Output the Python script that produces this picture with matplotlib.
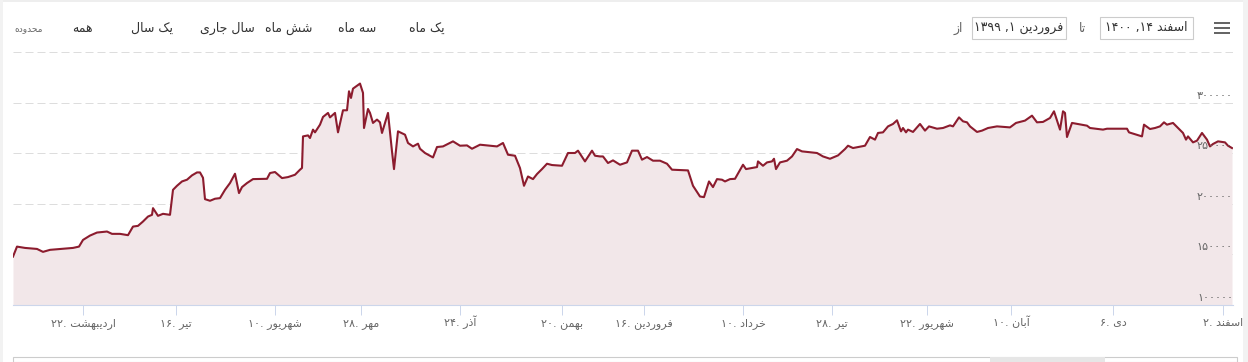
import matplotlib
matplotlib.use("Agg")
import matplotlib.pyplot as plt
from matplotlib.patches import Rectangle
from matplotlib import transforms

plt.rcParams['font.family'] = ['DejaVu Sans']

# ordinal position on the (trading-day) axis and price
t = [0, 4, 12, 24, 30, 37, 60, 66, 70, 77, 84, 94, 99, 107, 115, 120, 125, 130, 135,
     139, 140, 145, 150, 157, 160, 164, 169, 174, 179, 184, 187, 190, 192, 197, 202,
     207, 212, 217, 222, 226, 229, 234, 240, 254, 257, 262, 269, 275, 282, 287, 289,
     290, 295, 297, 300, 302, 307, 310, 315, 317, 322, 325, 330, 334, 336, 338, 340,
     347, 350, 351, 355, 357, 360, 364, 367, 369, 375, 379, 381, 385, 392, 395, 400,
     405, 407, 412, 420, 424, 430, 440, 447, 454, 459, 467, 484, 490, 495, 502, 507,
     511, 515, 520, 524, 529, 534, 539, 549, 555, 562, 565, 572, 579, 582, 587, 590,
     595, 600, 607, 614, 619, 625, 629, 634, 640, 647, 654, 659, 675, 680, 687, 691,
     696, 700, 704, 709, 712, 717, 722, 730, 733, 744, 745, 750, 754, 759, 761, 763,
     767, 774, 779, 784, 789, 804, 810, 817, 825, 832, 835, 840, 852, 857, 862, 865,
     870, 875, 880, 884, 888, 890, 893, 895, 900, 907, 912, 916, 924, 930, 937, 940,
     946, 950, 954, 957, 964, 969, 975, 984, 997, 1003, 1012, 1019, 1024, 1030, 1037,
     1041, 1047, 1050, 1052, 1054, 1059, 1074, 1077, 1090, 1094, 1114, 1116, 1129, 1131,
     1137, 1142, 1147, 1151, 1154, 1160, 1165, 1170, 1173, 1175, 1180, 1184, 1189, 1194,
     1197, 1200, 1205, 1212, 1215, 1219]
price = [147800, 157700, 156400, 155400, 152500, 154500, 156400, 157700, 164300, 168600,
         171600, 172600, 170300, 170300, 169000, 177500, 178200, 182500, 187400, 189100,
         195700, 188100, 190100, 189100, 213800, 217800, 222100, 223800, 228100, 231000,
         231000, 225700, 204600, 203000, 205000, 205600, 213800, 220500, 229700, 210600,
         216500, 220500, 224400, 224700, 230400, 231400, 225400, 226400, 228700, 233700,
         235400, 266600, 267600, 265000, 273300, 270600, 278200, 285800, 289800, 285400,
         289800, 270600, 292400, 292400, 311200, 304600, 313800, 318800, 309600, 274900,
         293700, 289800, 279900, 283200, 280500, 270000, 289800, 251800, 234300, 271600,
         268300, 260100, 256700, 259400, 254400, 250200, 245800, 256100, 256700, 261700,
         257400, 257700, 254400, 258400, 256700, 260100, 248500, 247500, 235300, 217800,
         227000, 224400, 229400, 234300, 239600, 238300, 237600, 250200, 250200, 252500,
         241900, 252500, 247500, 246800, 246800, 240300, 242900, 238600, 240900, 252500,
         252500, 243600, 246200, 242600, 242600, 239600, 233700, 233000, 217800, 207200,
         206600, 222100, 216500, 224400, 223800, 222100, 224400, 224700, 238600, 234300,
         236300, 241900, 237600, 240900, 241900, 244500, 234300, 240900, 242600, 246800,
         254100, 251800, 250200, 246800, 244500, 247800, 254100, 257400, 255100, 257400,
         266000, 263400, 270000, 270600, 276500, 278900, 282500, 271600, 274900, 270600,
         273300, 271000, 278900, 272300, 276500, 274200, 274900, 277500, 276500, 285400,
         281500, 280500, 276500, 271000, 272300, 274900, 276500, 275500, 279900, 282200,
         287100, 280500, 280900, 284800, 291400, 273300, 291400, 289800, 266000, 279900,
         277200, 274900, 273300, 274200, 274200, 270600, 266600, 278200, 273900, 274900,
         276500, 280500, 278200, 279900, 274900, 270000, 263400, 266600, 260700, 262400,
         270000, 263400, 256700, 259100, 261700, 260700, 257400, 255100]

tick_t = [70, 163, 262, 348, 447, 549, 631, 730, 819, 914, 998, 1100, 1210]
tick_day = [22, 16, 10, 28, 24, 20, 16, 10, 28, 22, 10, 6, 2]
tick_month = ['اردیبهشت', 'تیر', 'شهریور', 'مهر', 'آذر', 'بهمن', 'فروردین',
              'خرداد', 'تیر', 'شهریور', 'آبان', 'دی', 'اسفند']
y_labels = [100000, 150000, 200000, 250000, 300000]
y_grid = [150000, 200000, 250000, 300000, 350000]

buttons = ['یک ماه', 'سه ماه', 'شش ماه', 'سال جاری', 'یک سال', 'همه']
button_x = [427, 357, 289, 227, 152, 82]

# contextual forms for the letters used (iso, fin[, ini, med])
FORMS = {
    'ا': ('\uFE8D', '\uFE8E'), 'آ': ('\uFE81', '\uFE82'),
    'ب': ('\uFE8F', '\uFE90', '\uFE91', '\uFE92'),
    'ت': ('\uFE95', '\uFE96', '\uFE97', '\uFE98'),
    'ج': ('\uFE9D', '\uFE9E', '\uFE9F', '\uFEA0'),
    'ح': ('\uFEA1', '\uFEA2', '\uFEA3', '\uFEA4'),
    'خ': ('\uFEA5', '\uFEA6', '\uFEA7', '\uFEA8'),
    'د': ('\uFEA9', '\uFEAA'), 'ذ': ('\uFEAB', '\uFEAC'),
    'ر': ('\uFEAD', '\uFEAE'), 'ز': ('\uFEAF', '\uFEB0'),
    'س': ('\uFEB1', '\uFEB2', '\uFEB3', '\uFEB4'),
    'ش': ('\uFEB5', '\uFEB6', '\uFEB7', '\uFEB8'),
    'ف': ('\uFED1', '\uFED2', '\uFED3', '\uFED4'),
    'ک': ('\uFB8E', '\uFB8F', '\uFB90', '\uFB91'),
    'ل': ('\uFEDD', '\uFEDE', '\uFEDF', '\uFEE0'),
    'م': ('\uFEE1', '\uFEE2', '\uFEE3', '\uFEE4'),
    'ن': ('\uFEE5', '\uFEE6', '\uFEE7', '\uFEE8'),
    'ه': ('\uFEE9', '\uFEEA', '\uFEEB', '\uFEEC'),
    'و': ('\uFEED', '\uFEEE'),
    'ی': ('\uFBFC', '\uFBFD', '\uFBFE', '\uFBFF'),
}


def rtl(s):
    out = []
    for i, c in enumerate(s):
        if c not in FORMS:
            out.append(c)
            continue
        f = FORMS[c]
        prev = i > 0 and s[i-1] in FORMS and len(FORMS[s[i-1]]) == 4
        nxt = len(f) == 4 and i + 1 < len(s) and s[i+1] in FORMS
        if prev and nxt:
            out.append(f[3])
        elif prev:
            out.append(f[1])
        elif nxt:
            out.append(f[2])
        else:
            out.append(f[0])
    return ''.join(reversed(out))


def fa(n):
    return str(n).translate(str.maketrans('0123456789', '۰۱۲۳۴۵۶۷۸۹'))


W, H = 1248, 362
fig = plt.figure(figsize=(W/100, H/100), dpi=100)
ax = fig.add_axes([13/W, 57/H, 1220/W, 253/H])

ax.fill_between(t, price, 100000, color='#f2e7e9', lw=0)
ax.plot(t, price, color='#8c1c2e', lw=1.5)

ax.set_xlim(0, 1220)
ax.set_ylim(100000, 350000)
for v in y_grid:
    ax.axhline(v, color='#dddddd', lw=0.72, ls=(0, (8, 4)), zorder=0)

for s in ['top', 'left', 'right']:
    ax.spines[s].set_visible(False)
ax.spines['bottom'].set_color('#ccd6eb')
ax.spines['bottom'].set_linewidth(0.8)
ax.set_yticks([])
ax.set_xticks(tick_t)
ax.set_xticklabels([fa(d) + '. ' + rtl(m) for d, m in zip(tick_day, tick_month)],
                   va='baseline')
ax.tick_params(axis='x', length=7.2, width=0.72, color='#ccd6eb', labelcolor='#666666',
               labelsize=8, pad=7.6)

off = transforms.offset_copy(ax.get_yaxis_transform(), fig=fig, x=0, y=2, units='dots')
for v in y_labels:
    ax.text(1.0, v, fa(v), transform=off, ha='right', va='bottom', fontsize=8,
            color='#666666')

# range selector and date inputs
for b, x in zip(buttons, button_x):
    fig.text(x/W, 1 - 28/H, rtl(b), ha='center', va='center', fontsize=9, color='#333333')
fig.text(29/W, 1 - 29/H, rtl('محدوده'), ha='center', va='center', fontsize=6.5,
         color='#666666')

fig.add_artist(Rectangle((972/W, 1 - 39/H), 94/W, 22/H, transform=fig.transFigure,
                         fill=False, ec='#cccccc', lw=0.8))
fig.add_artist(Rectangle((1100/W, 1 - 39/H), 93/W, 22/H, transform=fig.transFigure,
                         fill=False, ec='#cccccc', lw=0.8))
fig.text(1019/W, 1 - 28/H, fa(1399) + ' ,' + fa(1) + ' ' + rtl('فروردین'), ha='center',
         va='center', fontsize=9, color='#333333')
fig.text(1146/W, 1 - 28/H, fa(1400) + ' ,' + fa(14) + ' ' + rtl('اسفند'), ha='center',
         va='center', fontsize=9, color='#333333')
fig.text(958/W, 1 - 28/H, rtl('از'), ha='center', va='center', fontsize=9, color='#666666')
fig.text(1082/W, 1 - 28/H, rtl('تا'), ha='center', va='center', fontsize=9, color='#666666')

# menu icon
for y in [23, 28, 33]:
    fig.add_artist(Rectangle((1214/W, 1 - (y + 1.2)/H), 16/W, 2.5/H,
                             transform=fig.transFigure, color='#666666', lw=0))

# frame pieces
fig.add_artist(Rectangle((0, 1 - 2/H), 1, 2/H, transform=fig.transFigure,
                         color='#eeeeee', lw=0))
fig.add_artist(Rectangle((0, 0), 3/W, 1, transform=fig.transFigure, color='#f2f2f2', lw=0))
fig.add_artist(Rectangle((1243/W, 0), 5/W, 1, transform=fig.transFigure,
                         color='#f2f2f2', lw=0))
fig.add_artist(Rectangle((13/W, 0), 1224/W, 5/H, transform=fig.transFigure,
                         fill=False, ec='#cccccc', lw=0.8))
fig.add_artist(Rectangle((990/W, 0), 115/W, 5/H, transform=fig.transFigure,
                         color='#e6e6e6', lw=0))

fig.savefig('out.png', dpi=100, facecolor='white')
